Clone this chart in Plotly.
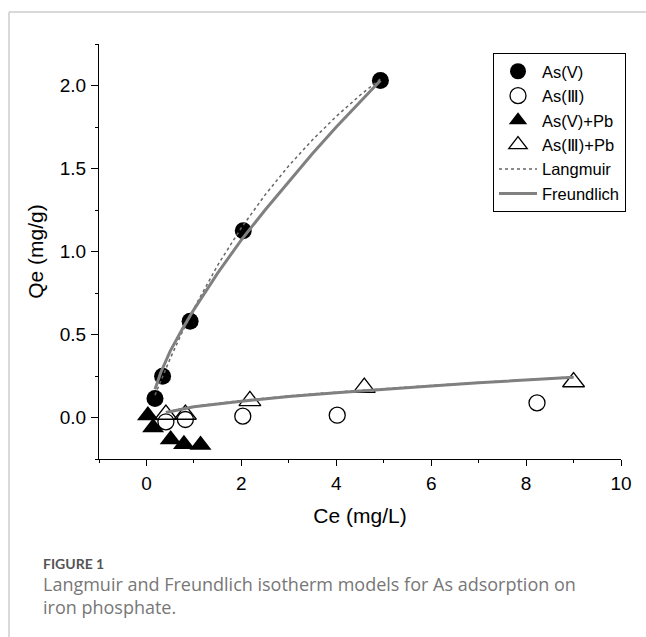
import plotly.graph_objects as go

# ---- data ----
asv_x = [0.18, 0.34, 0.92, 2.04, 4.93]
asv_y = [0.114, 0.248, 0.58, 1.125, 2.03]

asiii_x = [0.41, 0.82, 2.03, 4.02, 8.23]
asiii_y = [-0.026, -0.012, 0.008, 0.014, 0.088]

asvpb_x = [0.03, 0.14, 0.51, 0.79, 1.14]
asvpb_y = [0.012, -0.06, -0.132, -0.161, -0.166]

asiiipb_x = [0.41, 0.82, 2.18, 4.59, 9.0]
asiiipb_y = [0.018, 0.018, 0.10, 0.18, 0.214]

# fitted model curves
lang1_x = [0.18, 0.3, 0.5, 0.75, 1.0, 1.5, 2.0, 2.5, 3.0, 3.5, 4.0, 4.5, 4.93]
lang1_y = [0.135, 0.22, 0.355, 0.512, 0.657, 0.917, 1.143, 1.341, 1.517, 1.673, 1.814, 1.941, 2.04]
lang2_x = [0.41, 1.0, 2.0, 3.0, 4.0, 5.0, 6.0, 7.0, 8.0, 9.0]
lang2_y = [0.032, 0.068, 0.102, 0.13, 0.153, 0.174, 0.193, 0.211, 0.228, 0.244]

freu1_x = [0.18, 0.3, 0.5, 0.75, 1.0, 1.5, 2.0, 2.5, 3.0, 3.5, 4.0, 4.5, 4.93]
freu1_y = [0.17, 0.27, 0.40, 0.53, 0.65, 0.87, 1.07, 1.25, 1.42, 1.59, 1.75, 1.90, 2.03]
freu2_x = [0.41, 1.0, 2.0, 3.0, 4.0, 5.0, 6.0, 7.0, 8.0, 9.0]
freu2_y = [0.03, 0.065, 0.0985, 0.126, 0.149, 0.171, 0.19, 0.209, 0.226, 0.243]

x_ticks = [0, 2, 4, 6, 8, 10]
y_ticks = [0.0, 0.5, 1.0, 1.5, 2.0]

W, H = 646, 637
L, R, T, B = 99, 621, 44, 459
pw, ph = R - L, B - T


def px(x):
    return (x - L) / pw


def py(y):
    return (B - y) / ph


SANS = "Liberation Sans, Arial, sans-serif"
III = "Ⅲ"

fig = go.Figure()

mk_line = dict(color="black", width=1.3)
fig.add_trace(go.Scatter(x=asv_x, y=asv_y, mode="markers", name="As(V)", legendrank=1,
                         marker=dict(symbol="circle", size=17, color="black")))
fig.add_trace(go.Scatter(x=asiii_x, y=asiii_y, mode="markers", name="As(" + III + ")", legendrank=2,
                         marker=dict(symbol="circle-open", size=16, color="black", line=mk_line)))
fig.add_trace(go.Scatter(x=asvpb_x, y=asvpb_y, mode="markers", name="As(V)+Pb", legendrank=3,
                         marker=dict(symbol="triangle-up", size=19, color="black")))
fig.add_trace(go.Scatter(x=asiiipb_x, y=asiiipb_y, mode="markers", name="As(" + III + ")+Pb", legendrank=4,
                         marker=dict(symbol="triangle-up-open", size=19, color="black", line=mk_line)))

lang_style = dict(color="#666666", width=1.5, dash="dot")
fig.add_trace(go.Scatter(x=lang1_x, y=lang1_y, mode="lines", name="Langmuir", legendrank=5,
                         legendgroup="lang", line=lang_style))
fig.add_trace(go.Scatter(x=lang2_x, y=lang2_y, mode="lines", name="Langmuir", showlegend=False,
                         legendgroup="lang", line=lang_style))
freu_style = dict(color="#808080", width=3)
fig.add_trace(go.Scatter(x=freu1_x, y=freu1_y, mode="lines", name="Freundlich", legendrank=6,
                         legendgroup="freu", line=freu_style))
fig.add_trace(go.Scatter(x=freu2_x, y=freu2_y, mode="lines", name="Freundlich", showlegend=False,
                         legendgroup="freu", line=freu_style))

axis_font = dict(family=SANS, size=19, color="black")
title_font = dict(family=SANS, size=21, color="black")

fig.update_layout(
    width=W, height=H,
    margin=dict(l=L, r=W - R, t=T, b=H - B),
    paper_bgcolor="white", plot_bgcolor="white",
    font=dict(family=SANS, color="black"),
    showlegend=True,
    legend=dict(x=px(626), xanchor="right", y=py(53), yanchor="top",
                bordercolor="black", borderwidth=1, bgcolor="white",
                font=dict(family=SANS, size=16.5, color="black"),
                tracegroupgap=0, itemwidth=38),
    xaxis=dict(range=[-1, 10], tickvals=x_ticks, ticks="outside", ticklen=6, tickwidth=1.3,
               tickcolor="black", showline=True, linecolor="black", linewidth=1.3,
               showgrid=False, zeroline=False, tickfont=axis_font, ticklabelstandoff=1,
               minor=dict(dtick=1, tick0=0, ticks="outside", ticklen=3, tickwidth=1.3, tickcolor="black", showgrid=False),
               title=dict(text="Ce (mg/L)", font=title_font, standoff=15)),
    yaxis=dict(range=[-0.25, 2.25], tickvals=y_ticks, tickformat=".1f", ticks="outside", ticklen=7, tickwidth=1.3,
               tickcolor="black", showline=True, linecolor="black", linewidth=1.3,
               showgrid=False, zeroline=False, tickfont=axis_font, ticklabelstandoff=1,
               minor=dict(dtick=0.25, tick0=0, ticks="outside", ticklen=3, tickwidth=1.3, tickcolor="black", showgrid=False),
               title=dict(text="Qe (mg/g)", font=title_font, standoff=10)),
)

# page frame (light grey lines at top and left)
fig.add_shape(type="line", xref="paper", yref="paper", x0=px(9), x1=px(W + 5), y0=py(12), y1=py(12),
              line=dict(color="#cccccc", width=1.5))
fig.add_shape(type="line", xref="paper", yref="paper", x0=px(9), x1=px(9), y0=py(12), y1=py(H + 5),
              line=dict(color="#cccccc", width=1.5))

fig.add_annotation(xref="paper", yref="paper", x=px(41), y=py(563), xanchor="left", yanchor="middle",
                   text="<b>FIGURE 1</b>", showarrow=False,
                   font=dict(family="Lato, Open Sans, sans-serif", size=14, color="#555555"))
fig.add_annotation(xref="paper", yref="paper", x=px(41), y=py(595), xanchor="left", yanchor="middle",
                   text="Langmuir and Freundlich isotherm models for As adsorption on<br>iron phosphate.",
                   showarrow=False, align="left",
                   font=dict(family="Open Sans, Lato, sans-serif", size=18, color="#777777"))

fig.write_html("out.html")
